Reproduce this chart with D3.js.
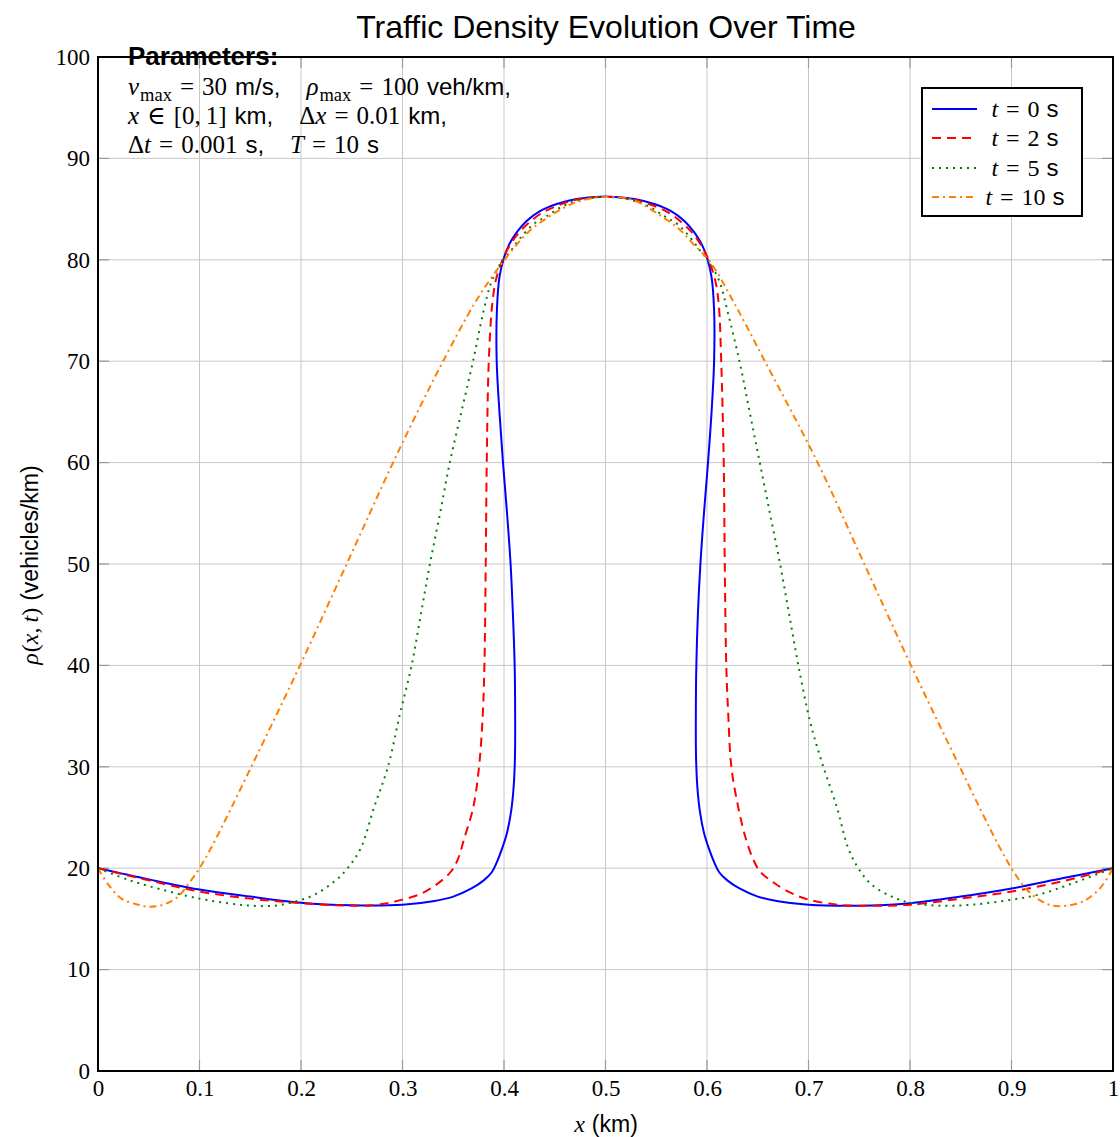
<!DOCTYPE html>
<html lang="en">
<head>
<meta charset="UTF-8">
<title>Traffic Density Evolution Over Time</title>
<script src="https://d3js.org/d3.v7.min.js"></script>
<style>
    html, body { margin: 0; padding: 0; background: #fff; }
    svg { display: block; }
    .grid line { stroke: #c8c8c8; stroke-width: 1; }
    .tick-lbl { font-family: "Liberation Serif", "DejaVu Serif", serif; font-size: 23px; fill: #000; }
    .sans { font-family: "Liberation Sans", Arial, sans-serif; }
    .serif { font-family: "Liberation Serif", "DejaVu Serif", serif; }
</style>
</head>
<body>
<svg id="chart" width="1120" height="1137"></svg>
<script>
// ---- data ----
const times = [0, 2, 5, 10];
const xTicks = [0, 0.1, 0.2, 0.3, 0.4, 0.5, 0.6, 0.7, 0.8, 0.9, 1];
const yTicks = [0, 10, 20, 30, 40, 50, 60, 70, 80, 90, 100];

// each series is a list of [x (km), rho (veh/km)] in drawing order
const rhoT0 = [
    [0, 20], [0.05, 18.9], [0.1, 17.9], [0.15, 17.2], [0.2, 16.6], [0.25, 16.35], [0.3, 16.4],
    [0.33, 16.75], [0.35, 17.2], [0.368, 18.0], [0.38, 18.8], [0.388, 19.6], [0.393, 20.6],
    [0.398, 21.9], [0.403, 23.5], [0.407, 25.6], [0.4095, 28], [0.4108, 31], [0.411, 35],
    [0.4105, 40], [0.4088, 45], [0.4065, 50], [0.403, 55], [0.399, 60], [0.3955, 65],
    [0.3928, 70], [0.393, 75], [0.3955, 78.3], [0.4, 80.2], [0.405, 81.5], [0.4125, 82.7],
    [0.422, 83.8], [0.4354, 84.8], [0.452, 85.5], [0.4714, 86.0], [0.5, 86.25], [0.5286, 86.0],
    [0.548, 85.5], [0.5646, 84.8], [0.578, 83.8], [0.5875, 82.7], [0.595, 81.5], [0.6, 80.2],
    [0.6045, 78.3], [0.607, 75], [0.607, 70], [0.6045, 65], [0.601, 60], [0.597, 55],
    [0.5935, 50], [0.591, 45], [0.5895, 40], [0.589, 35], [0.5892, 31], [0.5905, 28],
    [0.593, 25.6], [0.597, 23.5], [0.602, 21.9], [0.607, 20.6], [0.612, 19.6], [0.62, 18.8],
    [0.632, 18.0], [0.65, 17.2], [0.67, 16.75], [0.7, 16.4], [0.75, 16.3], [0.8, 16.55],
    [0.85, 17.2], [0.9, 18.0], [0.95, 19.0], [1, 20]
];
const rhoT2 = [
    [0, 20], [0.05, 18.8], [0.1, 17.7], [0.15, 17.0], [0.2, 16.55], [0.25, 16.3], [0.276, 16.4],
    [0.3, 16.9], [0.3186, 17.5], [0.335, 18.5], [0.348, 19.7], [0.355, 21], [0.361, 23],
    [0.3695, 25.9], [0.3754, 30], [0.379, 35], [0.3807, 40], [0.382, 50], [0.383, 60],
    [0.385, 70], [0.3885, 75.7], [0.392, 78], [0.3985, 80], [0.405, 81.3], [0.414, 82.6],
    [0.424, 83.6], [0.437, 84.6], [0.453, 85.35], [0.472, 85.95], [0.5, 86.2], [0.528, 85.95],
    [0.547, 85.35], [0.563, 84.6], [0.576, 83.6], [0.586, 82.6], [0.595, 81.3], [0.6015, 80],
    [0.608, 78], [0.6115, 75.7], [0.614, 70], [0.6165, 60], [0.6175, 50], [0.619, 40],
    [0.621, 35], [0.624, 30], [0.631, 25.9], [0.638, 23], [0.645, 21], [0.652, 19.7],
    [0.664, 18.7], [0.68, 17.7], [0.7, 16.9], [0.729, 16.4], [0.756, 16.3], [0.8, 16.4],
    [0.85, 17.0], [0.9, 17.7], [0.95, 18.7], [1, 20]
];
const rhoT5 = [
    [0, 20], [0.03, 18.85], [0.0624, 17.9], [0.1, 17.0], [0.128, 16.55], [0.151, 16.3],
    [0.174, 16.3], [0.194, 16.7], [0.2135, 17.4], [0.233, 18.7], [0.246, 20], [0.259, 22],
    [0.272, 26], [0.2857, 30], [0.297, 35], [0.309, 40], [0.318, 45], [0.327, 50],
    [0.337, 55], [0.3466, 60], [0.358, 65], [0.3695, 70], [0.38, 75], [0.3875, 77.8],
    [0.3977, 79.8], [0.406, 80.8], [0.4157, 82.1], [0.4289, 83.5], [0.442, 84.3],
    [0.458, 85.3], [0.4748, 85.9], [0.5, 86.2], [0.5252, 85.9], [0.542, 85.3], [0.558, 84.3],
    [0.5711, 83.5], [0.5843, 82.1], [0.594, 80.8], [0.6023, 79.8], [0.6125, 77.8], [0.62, 75],
    [0.632, 70], [0.642, 65], [0.652, 60], [0.662, 55], [0.672, 50], [0.681, 45], [0.69, 40],
    [0.7017, 34.4], [0.713, 30.5], [0.728, 26], [0.739, 22], [0.749, 20], [0.762, 18.4],
    [0.782, 17.2], [0.8, 16.6], [0.828, 16.3], [0.861, 16.4], [0.9, 16.9], [0.927, 17.4],
    [0.96, 18.5], [1, 20]
];
const rhoT10 = [
    [0, 20], [0.01, 18.4], [0.023, 17.0], [0.0394, 16.4], [0.051, 16.2], [0.0657, 16.45],
    [0.0788, 17.2], [0.0887, 18.4], [0.1, 20], [0.113, 22.3], [0.151, 30], [0.199, 40],
    [0.245, 50], [0.2907, 60], [0.3202, 66.1], [0.34, 70], [0.371, 75.7], [0.3895, 78.5],
    [0.4125, 81.5], [0.4256, 82.9], [0.442, 84.1], [0.4584, 85.1], [0.4747, 85.8], [0.5, 86.2],
    [0.527, 85.9], [0.555, 84.3], [0.573, 83], [0.586, 81.6], [0.603, 79.8], [0.627, 75.7],
    [0.657, 70], [0.709, 60], [0.755, 50], [0.801, 40], [0.849, 30], [0.887, 22.3], [0.9, 20],
    [0.914, 18.0], [0.927, 16.9], [0.9405, 16.3], [0.954, 16.3], [0.97, 16.7], [0.987, 18.0],
    [1, 20]
];

const seriesData = [rhoT0, rhoT2, rhoT5, rhoT10];
const colors = ["#0000ff", "#ff0000", "#008000", "#ff8000"];
const dashes = [null, "9,6", "2,5", "7,4,2,4"];

// ---- layout ----
const svg = d3.select("#chart");
const plotL = 98, plotR = 1113, plotT = 57, plotB = 1071;

const x = d3.scaleLinear().domain([0, 1]).range([plotL, plotR]);
const y = d3.scaleLinear().domain([0, 100]).range([plotB, plotT]);

// grid
const grid = svg.append("g").attr("class", "grid");
grid.selectAll("line.v").data(xTicks.slice(1, -1)).enter().append("line")
    .attr("x1", d => x(d)).attr("x2", d => x(d)).attr("y1", plotT).attr("y2", plotB);
grid.selectAll("line.h").data(yTicks.slice(1, -1)).enter().append("line")
    .attr("x1", plotL).attr("x2", plotR).attr("y1", d => y(d)).attr("y2", d => y(d));

// inward tick marks
const tk = svg.append("g").attr("stroke", "#999").attr("stroke-width", 1.2);
yTicks.forEach(v => {
    tk.append("line").attr("x1", plotL).attr("x2", plotL + 11).attr("y1", y(v)).attr("y2", y(v));
    tk.append("line").attr("x1", plotR - 11).attr("x2", plotR).attr("y1", y(v)).attr("y2", y(v));
});
xTicks.forEach(v => {
    tk.append("line").attr("x1", x(v)).attr("x2", x(v)).attr("y1", plotB).attr("y2", plotB - 11);
    tk.append("line").attr("x1", x(v)).attr("x2", x(v)).attr("y1", plotT).attr("y2", plotT + 11);
});

// axes (labels only, ticks drawn above)
const xAxis = d3.axisBottom(x).tickValues(xTicks).tickSize(0).tickPadding(9)
    .tickFormat(d => d === 0 || d === 1 ? d3.format("d")(d) : d3.format(".1f")(d));
const gx = svg.append("g").attr("transform", `translate(0,${plotB})`).call(xAxis);
gx.select(".domain").remove();
gx.attr("font-family", null).attr("font-size", null);
gx.selectAll("text").attr("class", "tick-lbl");

const yAxis = d3.axisLeft(y).tickValues(yTicks).tickSize(0).tickPadding(8);
const gy = svg.append("g").attr("transform", `translate(${plotL},0)`).call(yAxis);
gy.select(".domain").remove();
gy.attr("font-family", null).attr("font-size", null);
gy.selectAll("text").attr("class", "tick-lbl");

// series
const line = d3.line()
    .x(d => x(d[0])).y(d => y(d[1]))
    .curve(d3.curveCatmullRom.alpha(0.5));

svg.append("clipPath").attr("id", "plotclip")
    .append("rect").attr("x", plotL).attr("y", plotT).attr("width", plotR - plotL).attr("height", plotB - plotT);

svg.append("g").attr("clip-path", "url(#plotclip)")
    .selectAll("path").data(seriesData).enter().append("path")
    .attr("d", line)
    .attr("fill", "none")
    .attr("stroke", (d, i) => colors[i])
    .attr("stroke-width", 2)
    .attr("stroke-dasharray", (d, i) => dashes[i]);

// frame
svg.append("rect").attr("x", plotL).attr("y", plotT).attr("width", plotR - plotL).attr("height", plotB - plotT)
    .attr("fill", "none").attr("stroke", "#000").attr("stroke-width", 2);

// mixed math / text runs: [text, kind, dx]
function mathText(sel, parts, size, sansSize) {
    parts.forEach(p => {
        const t = sel.append("tspan").text(p[0]);
        const kind = p[1];
        if (kind === "mi") t.attr("class", "serif").attr("font-style", "italic");
        else if (kind === "mn") t.attr("class", "serif");
        else if (kind === "sub") t.attr("class", "serif").attr("font-size", size * 0.74).attr("dy", size * 0.22);
        else if (kind === "up") t.attr("class", "serif").attr("dy", -size * 0.22);
        else t.attr("class", "sans").attr("font-size", sansSize || size);
        if (p[2]) t.attr("dx", p[2]);
    });
}

// title
svg.append("text").attr("class", "sans").attr("x", 606).attr("y", 38)
    .attr("text-anchor", "middle").attr("font-size", 32).text("Traffic Density Evolution Over Time");

// axis titles
const xl = svg.append("text").attr("x", 606).attr("y", 1132).attr("text-anchor", "middle").attr("font-size", 24);
mathText(xl, [["x", "mi"], ["(km)", "sans", 7]], 24, 23);

const yl = svg.append("text").attr("transform", "translate(38,565) rotate(-90)")
    .attr("text-anchor", "middle").attr("font-size", 24);
mathText(yl, [["ρ", "mi"], ["(", "mn", 1], ["x", "mi"], [",", "mn"], ["t", "mi", 5], [")", "mn"],
    ["(vehicles/km)", "sans", 7]], 24, 23);

// parameters block
svg.append("text").attr("class", "sans").attr("x", 128).attr("y", 65)
    .attr("font-size", 26).attr("font-weight", "bold").text("Parameters:");

const pSize = 25, pSans = 24, th = 8, quad = 26;
const p1 = svg.append("text").attr("x", 128).attr("y", 95).attr("font-size", pSize);
mathText(p1, [["v", "mi"], ["max", "sub", 1], ["=", "up", th], ["30", "mn", th], ["m/s,", "sans", 8],
    ["ρ", "mi", quad], ["max", "sub", 1], ["=", "up", th], ["100", "mn", th], ["veh/km,", "sans", 8]], pSize, pSans);

const p2 = svg.append("text").attr("x", 128).attr("y", 124).attr("font-size", pSize);
mathText(p2, [["x", "mi"], ["∈", "mn", th], ["[0,", "mn", th], ["1]", "mn", 5], ["km,", "sans", 8],
    ["Δ", "mn", quad], ["x", "mi"], ["=", "mn", th], ["0.01", "mn", th], ["km,", "sans", 8]], pSize, pSans);

const p3 = svg.append("text").attr("x", 128).attr("y", 153).attr("font-size", pSize);
mathText(p3, [["Δ", "mn"], ["t", "mi"], ["=", "mn", th], ["0.001", "mn", th], ["s,", "sans", 8],
    ["T", "mi", quad], ["=", "mn", th], ["10", "mn", th], ["s", "sans", 8]], pSize, pSans);

// legend
const lg = svg.append("g");
lg.append("rect").attr("x", 922).attr("y", 88).attr("width", 160).attr("height", 128)
    .attr("fill", "#fff").attr("stroke", "#000").attr("stroke-width", 2);
const rowY = [109, 138, 168, 197];
times.forEach((t, i) => {
    lg.append("line").attr("x1", 932).attr("x2", 977).attr("y1", rowY[i]).attr("y2", rowY[i])
        .attr("stroke", colors[i]).attr("stroke-width", 2).attr("stroke-dasharray", dashes[i]);
    const tx = lg.append("text").attr("x", 1025).attr("y", rowY[i] + 8)
        .attr("text-anchor", "middle").attr("font-size", 24);
    mathText(tx, [["t", "mi"], ["=", "mn", 8], [String(t), "mn", 8], ["s", "sans", 7]], 24, 24);
});
</script>
</body>
</html>
